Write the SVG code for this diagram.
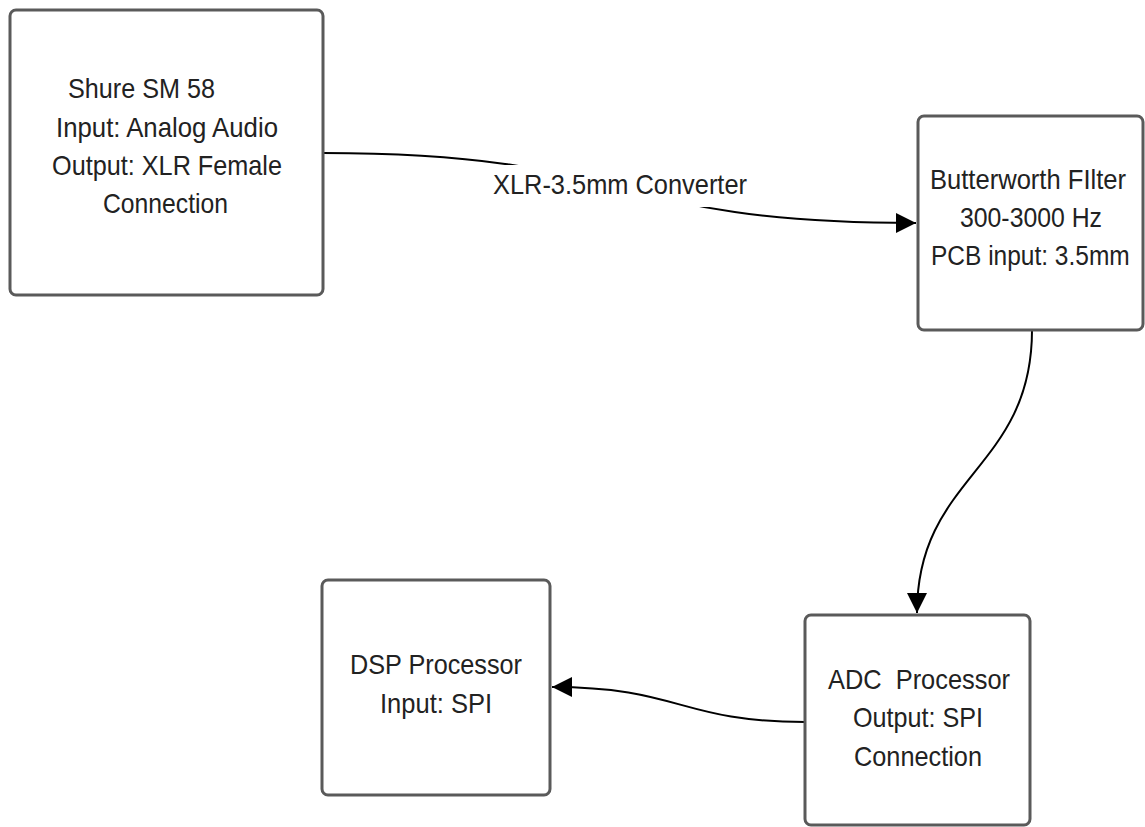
<svg xmlns="http://www.w3.org/2000/svg" width="1145" height="827" viewBox="0 0 1145 827">
<style>
.box{fill:#fff;stroke:#5a5a5a;stroke-width:3}
.t{font-family:"Liberation Sans",Arial,sans-serif;font-size:28px;fill:#222}
.conn{fill:none;stroke:#000;stroke-width:2}
</style>
<defs>
<marker id="arrow" markerWidth="22" markerHeight="22" refX="20" refY="10" orient="auto" markerUnits="userSpaceOnUse">
<path d="M0,0 L20,10 L0,20 z" fill="#000"/>
</marker>
</defs>
<rect width="1145" height="827" fill="#fff"/>
<g id="connectors">
<path class="conn" d="M323,153 C640,153 600,223 916,223" marker-end="url(#arrow)"/>
<path class="conn" d="M1032,330 C1032,470 917,475 917,613" marker-end="url(#arrow)"/>
<path class="conn" d="M805,722 C680,722 680,687 552,687" marker-end="url(#arrow)"/>
<rect x="488" y="165" width="265" height="42" fill="#fff"/>
<text class="t" x="493" y="194" textLength="254" lengthAdjust="spacingAndGlyphs">XLR-3.5mm Converter</text>
</g>
<g id="shure">
<rect class="box" x="10" y="10" width="313" height="285" rx="6"/>
<text class="t" x="68" y="98" textLength="147" lengthAdjust="spacingAndGlyphs">Shure SM 58</text>
<text class="t" x="56" y="137" textLength="222" lengthAdjust="spacingAndGlyphs">Input: Analog Audio</text>
<text class="t" x="52" y="175" textLength="230" lengthAdjust="spacingAndGlyphs">Output: XLR Female</text>
<text class="t" x="103" y="213" textLength="125" lengthAdjust="spacingAndGlyphs">Connection</text>
</g>
<g id="butterworth">
<rect class="box" x="918" y="116" width="225" height="214" rx="6"/>
<text class="t" x="930" y="189" textLength="196" lengthAdjust="spacingAndGlyphs">Butterworth FIlter</text>
<text class="t" x="960" y="227" textLength="142" lengthAdjust="spacingAndGlyphs">300-3000 Hz</text>
<text class="t" transform="translate(931,265) scale(0.875,1)" x="0" y="0">PCB input: 3.5mm</text>
</g>
<g id="adc">
<rect class="box" x="805" y="615" width="225" height="210" rx="6"/>
<text class="t" x="828" y="689" textLength="182" lengthAdjust="spacingAndGlyphs" xml:space="preserve">ADC  Processor</text>
<text class="t" x="853" y="727" textLength="130" lengthAdjust="spacingAndGlyphs">Output: SPI</text>
<text class="t" x="854" y="766" textLength="128" lengthAdjust="spacingAndGlyphs">Connection</text>
</g>
<g id="dsp">
<rect class="box" x="322" y="580" width="228" height="215" rx="6"/>
<text class="t" x="350" y="674" textLength="172" lengthAdjust="spacingAndGlyphs">DSP Processor</text>
<text class="t" x="380" y="713" textLength="112" lengthAdjust="spacingAndGlyphs">Input: SPI</text>
</g>
</svg>
